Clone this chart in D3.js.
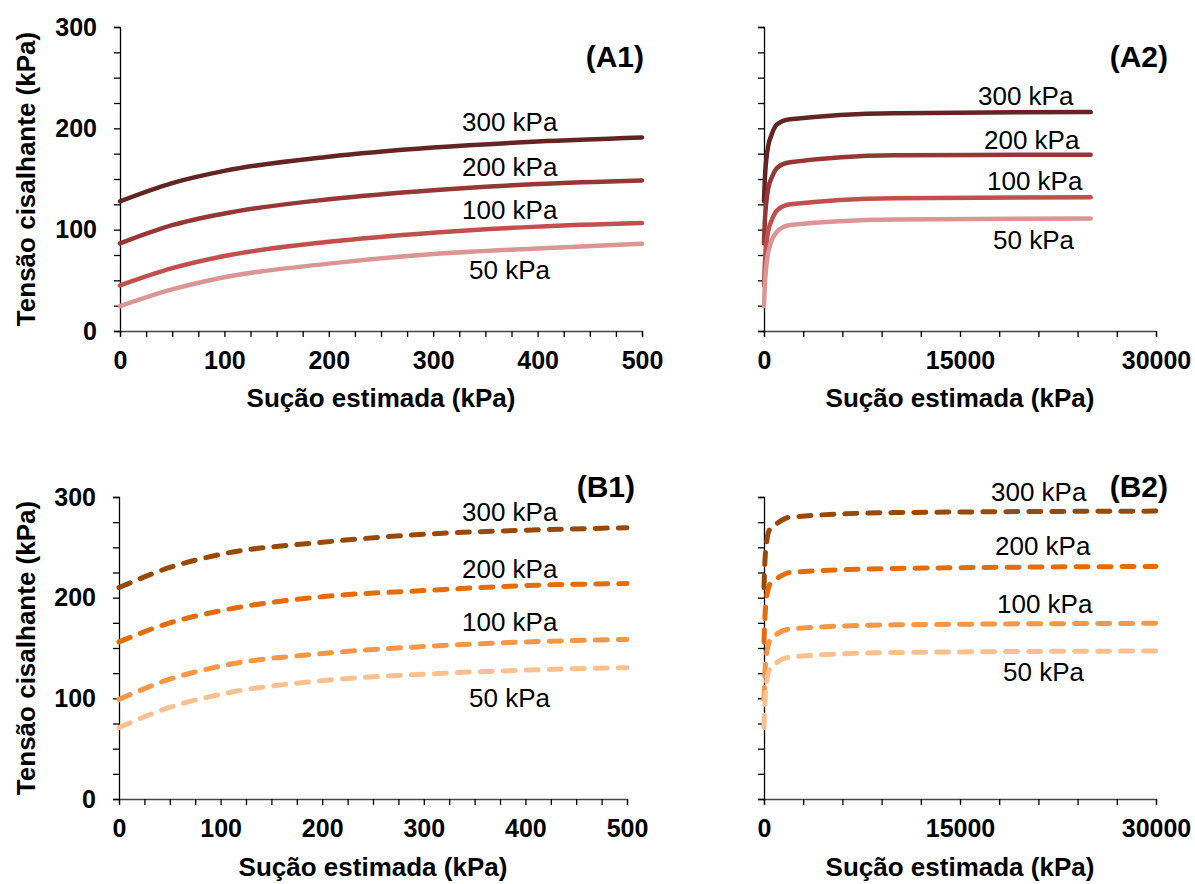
<!DOCTYPE html>
<html>
<head>
<meta charset="utf-8">
<script src="https://cdn.jsdelivr.net/npm/d3@7"></script>
<style>
  html, body { margin: 0; padding: 0; background: #fff; }
  svg { display: block; font-family: "Liberation Sans", Arial, sans-serif; }
</style>
</head>
<body>
<svg id="chart" width="1195" height="884"></svg>
<script>
// ---------------- DATA ----------------
const seriesNames = ["300 kPa", "200 kPa", "100 kPa", "50 kPa"];
const suctionLow = [0, 50, 100, 200, 300, 400, 500];
const suctionA2 = [0, 50, 100, 200, 300, 400, 500, 1000, 2000, 10000, 25000];
const suctionB2 = [0, 50, 100, 200, 300, 400, 500, 1000, 2000, 10000, 30000];

const a300 = [128, 146, 158, 172, 181, 187, 191, 204, 209, 215, 216];
const a200 = [86.5, 104.5, 116, 130, 139, 145, 148.5, 161, 166.5, 173.5, 174];
const a100 = [45, 62, 74, 88, 97, 103, 106.5, 119, 125, 131, 132];
const a50  = [24.5, 41, 53, 66.5, 76, 81.5, 86, 98, 104.5, 110, 111];

const b300 = [210, 230, 243, 255, 263, 267, 269.5, 274, 280, 284.5, 286];
const b200 = [156, 175, 187, 201, 207, 212, 214, 219, 225, 229, 231];
const b100 = [99, 119, 132, 144.5, 151.5, 156, 158.5, 164, 169, 173, 174.5];
const b50  = [71, 91, 104, 117.5, 124, 128, 130.5, 136, 141, 145.5, 147];

const colorsA = ["#632523", "#953735", "#C0504D", "#D99694"];
const colorsB = ["#984807", "#E46C0A", "#F79646", "#FAC090"];

const yTicks = d3.range(0, 301, 25);
const yTickLabels = [0, 100, 200, 300];
const xTicksLow = d3.range(0, 501, 25);
const xTickLabelsLow = [0, 100, 200, 300, 400, 500];
const xTicksHigh = d3.range(0, 30001, 3000);
const xTickLabelsHigh = [0, 15000, 30000];

const xTitle = "Sução estimada (kPa)";
const yTitle = "Tensão cisalhante (kPa)";

// ---------------- LAYOUT ----------------
const panels = [
  { tag: "(A1)", x0: 120, x1: 642, y0: 331, y1: 27, xMax: 500, suction: suctionLow,
    series: [a300, a200, a100, a50], colors: colorsA, dashed: false,
    xTicks: xTicksLow, xLabels: xTickLabelsLow, yLabels: true,
    tagPos: [644, 67], titleY: 407,
    lab: [[462, 131], [462, 176], [462, 219], [469, 279]] },
  { tag: "(A2)", x0: 764, x1: 1156, y0: 331, y1: 27, xMax: 30000, suction: suctionA2,
    series: [a300, a200, a100, a50], colors: colorsA, dashed: false,
    xTicks: xTicksHigh, xLabels: xTickLabelsHigh, yLabels: false,
    tagPos: [1168, 67], titleY: 407,
    lab: [[978, 105], [984, 149], [987, 190], [993, 249]] },
  { tag: "(B1)", x0: 119, x1: 627, y0: 799, y1: 497, xMax: 500, suction: suctionLow,
    series: [b300, b200, b100, b50], colors: colorsB, dashed: true,
    xTicks: xTicksLow, xLabels: xTickLabelsLow, yLabels: true,
    tagPos: [635, 497], titleY: 876,
    lab: [[462, 521], [462, 578], [462, 631], [469, 707]] },
  { tag: "(B2)", x0: 764, x1: 1156, y0: 799, y1: 497, xMax: 30000, suction: suctionB2,
    series: [b300, b200, b100, b50], colors: colorsB, dashed: true,
    xTicks: xTicksHigh, xLabels: xTickLabelsHigh, yLabels: false,
    tagPos: [1168, 497], titleY: 876,
    lab: [[991, 501], [995, 555], [997, 613], [1003, 681]] }
];

const svg = d3.select("#chart");

panels.forEach(p => {
  const x = d3.scaleLinear().domain([0, p.xMax]).range([p.x0, p.x1]);
  const y = d3.scaleLinear().domain([0, 300]).range([p.y0, p.y1]);
  const g = svg.append("g");

  // X axis
  const xAxis = d3.axisBottom(x).tickValues(p.xTicks).tickSize(6).tickPadding(14)
    .tickFormat(d => p.xLabels.includes(d) ? String(d) : "");
  const gx = g.append("g").attr("transform", `translate(0,${p.y0})`).call(xAxis);
  gx.select(".domain").attr("stroke", "#444").attr("stroke-width", 1.3);
  gx.selectAll(".tick line").attr("stroke", "#000").attr("stroke-width", 1.3);
  gx.selectAll("text").attr("font-size", 25).attr("font-weight", "bold").attr("fill", "#000")
    .attr("font-family", "Liberation Sans, Arial, sans-serif");

  // Y axis
  const yAxis = d3.axisLeft(y).tickValues(yTicks).tickSize(6).tickPadding(17)
    .tickFormat(d => (p.yLabels && yTickLabels.includes(d)) ? String(d) : "");
  const gy = g.append("g").attr("transform", `translate(${p.x0},0)`).call(yAxis);
  gy.select(".domain").attr("stroke", "#000").attr("stroke-width", 1.3);
  gy.selectAll(".tick line").attr("stroke", "#000").attr("stroke-width", 1.3);
  gy.selectAll("text").attr("font-size", 25).attr("font-weight", "bold").attr("fill", "#000")
    .attr("font-family", "Liberation Sans, Arial, sans-serif");

  // Lines
  const line = d3.line().x((d, i) => x(p.suction[i])).y(d => y(d)).curve(d3.curveMonotoneX);
  p.series.forEach((s, k) => {
    const vals = s.slice(0, p.suction.length);
    g.append("path").datum(vals)
      .attr("d", line)
      .attr("fill", "none")
      .attr("stroke", p.colors[k])
      .attr("stroke-width", p.dashed ? 5 : 4.5)
      .attr("stroke-linecap", "round")
      .attr("stroke-linejoin", "round")
      .attr("stroke-dasharray", p.dashed ? "12,11" : null);
  });

  // Series labels
  seriesNames.forEach((n, k) => {
    g.append("text").attr("x", p.lab[k][0]).attr("y", p.lab[k][1])
      .attr("font-size", 26).attr("fill", "#000").text(n);
  });

  // Panel tag
  g.append("text").attr("x", p.tagPos[0]).attr("y", p.tagPos[1])
    .attr("text-anchor", "end").attr("font-size", 30).attr("font-weight", "bold")
    .attr("fill", "#000").text(p.tag);

  // X title
  g.append("text").attr("x", (p.x0 + p.x1) / 2).attr("y", p.titleY)
    .attr("text-anchor", "middle").attr("font-size", 26).attr("font-weight", "bold")
    .attr("fill", "#000").text(xTitle);

  // Y title (left panels only)
  if (p.yLabels) {
    const cy = (p.y0 + p.y1) / 2;
    g.append("text").attr("transform", `translate(35,${cy}) rotate(-90)`)
      .attr("text-anchor", "middle").attr("font-size", 26).attr("font-weight", "bold")
      .attr("fill", "#000").text(yTitle);
  }
});
</script>
</body>
</html>
